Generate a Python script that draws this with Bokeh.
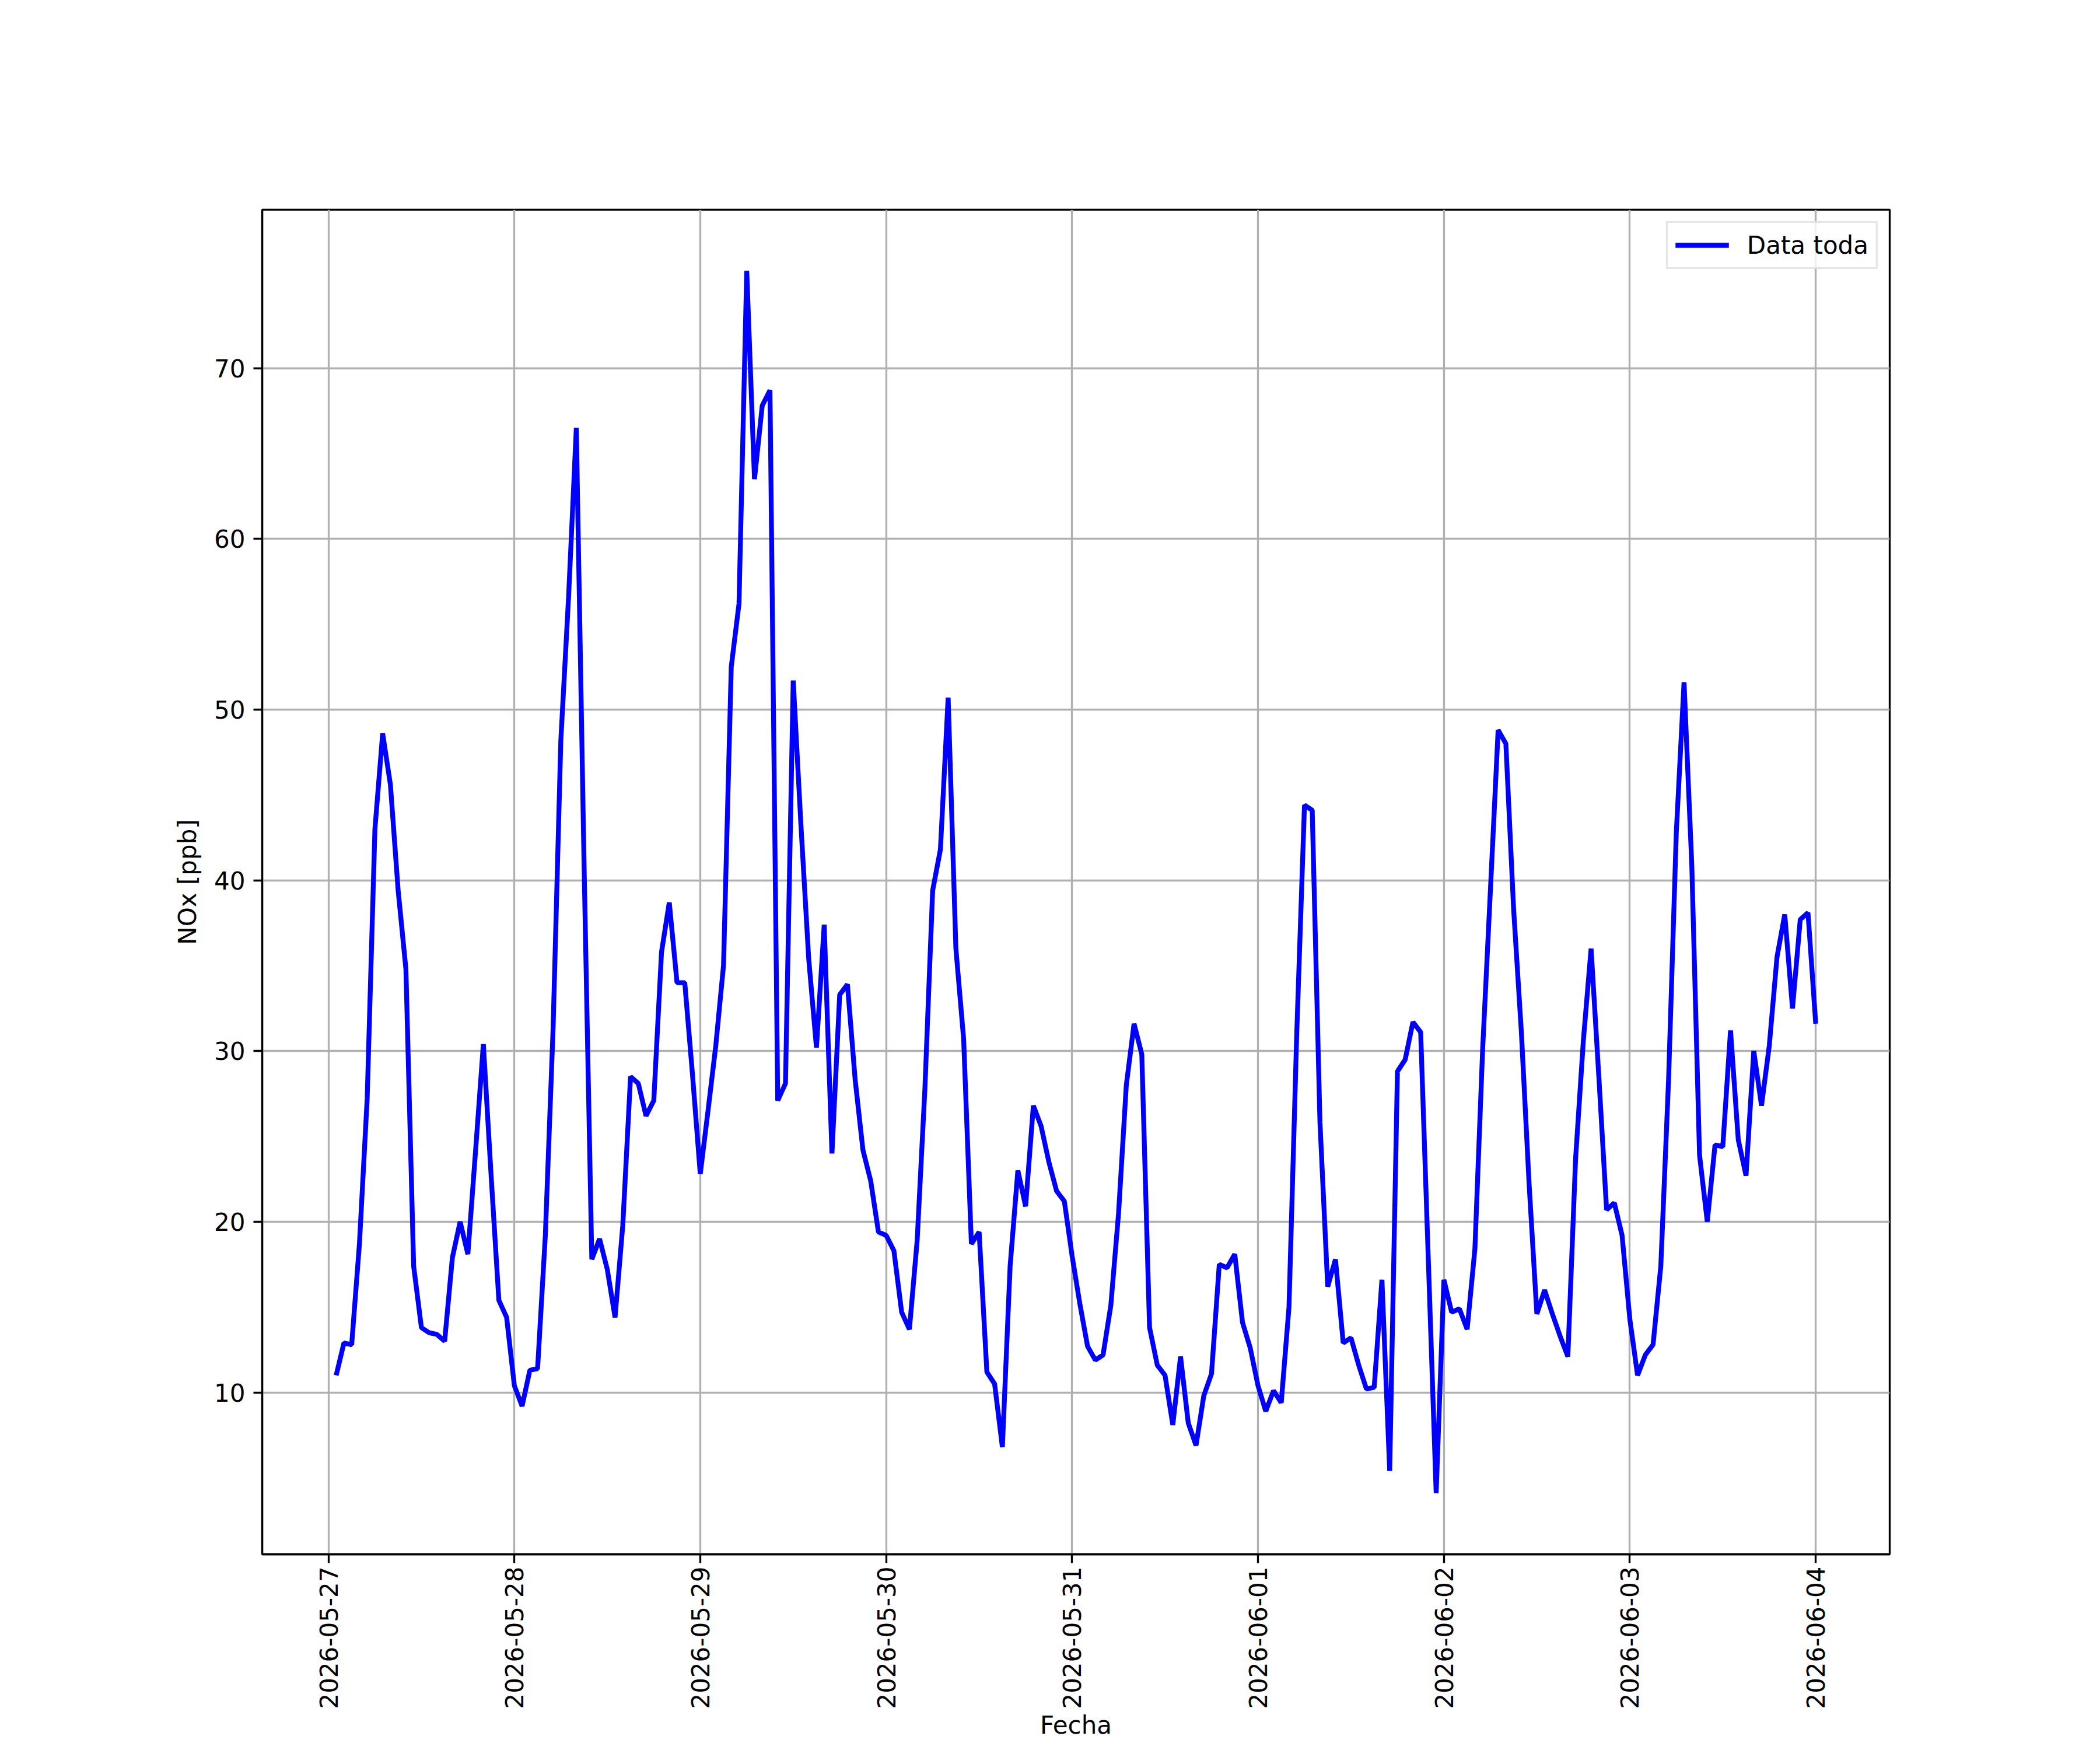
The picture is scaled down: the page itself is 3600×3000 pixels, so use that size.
import numpy as np
import pandas as pd
from bokeh.plotting import figure
from bokeh.models import FixedTicker, DatetimeTickFormatter, Range1d, ColumnDataSource
from bokeh.embed import file_html
from bokeh.resources import INLINE

# ---- data (hourly NOx, ppb) ----
start_time = "2026-05-27 01:00"
nox_0527 = [11.0, 12.9, 12.8, 18.7, 27.2, 43.0, 48.6, 45.6, 39.4, 34.8, 17.4, 13.8,
            13.5, 13.4, 13.0, 17.9, 20.0, 18.1, 24.2, 30.4, 22.7, 15.4, 14.4]
nox_0528 = [10.4, 9.2, 11.3, 11.4, 19.2, 31.3, 48.2, 56.6, 66.5, 40.9, 17.8, 19.0,
            17.2, 14.4, 19.8, 28.5, 28.1, 26.2, 27.1, 35.8, 38.7, 34.0, 34.0, 28.6]
nox_0529 = [22.8, 26.5, 30.3, 35.0, 52.5, 56.2, 75.7, 63.5, 67.8, 68.7, 27.1, 28.1,
            51.7, 43.2, 35.4, 30.2, 37.4, 24.0, 33.3, 33.9, 28.3, 24.2, 22.4, 19.4]
nox_0530 = [19.2, 18.3, 14.7, 13.7, 18.9, 27.8, 39.4, 41.8, 50.7, 36.0, 30.7, 18.7,
            19.4, 11.2, 10.5, 6.8, 17.4, 23.0, 20.9, 26.8, 25.6, 23.5, 21.8, 21.2]
nox_0531 = [18.0, 15.2, 12.7, 11.9, 12.2, 15.1, 20.5, 28.0, 31.6, 29.8, 13.8, 11.6,
            11.0, 8.1, 12.1, 8.2, 6.9, 9.8, 11.1, 17.5, 17.3, 18.1, 14.1, 12.6]
nox_0601 = [10.4, 8.9, 10.1, 9.4, 15.0, 31.0, 44.4, 44.1, 25.8, 16.2, 17.8, 12.9,
            13.2, 11.6, 10.2, 10.3, 16.6, 5.4, 28.8, 29.5, 31.7, 31.1, 17.6, 4.1]
nox_0602 = [16.6, 14.7, 14.9, 13.7, 18.4, 30.1, 39.4, 48.8, 48.0, 38.3, 31.1, 22.2,
            14.6, 16.0, 14.6, 13.3, 12.1, 23.7, 30.6, 36.0, 28.5, 20.7, 21.1, 19.2]
nox_0603 = [14.3, 11.0, 12.2, 12.8, 17.4, 28.3, 42.8, 51.6, 40.9, 23.9, 20.0, 24.5,
            24.4, 31.2, 24.8, 22.7, 30.0, 26.8, 30.3, 35.5, 38.0, 32.5, 37.7, 38.1]
nox_0604 = [31.6]

tick_dates = ["2026-05-27", "2026-05-28", "2026-05-29", "2026-05-30", "2026-05-31",
              "2026-06-01", "2026-06-02", "2026-06-03", "2026-06-04"]
y_ticks = [10, 20, 30, 40, 50, 60, 70]

series_label = "Data toda"
x_label = "Fecha"
y_label = "NOx [ppb]"

nox = (nox_0527 + nox_0528 + nox_0529 + nox_0530 + nox_0531 +
       nox_0601 + nox_0602 + nox_0603 + nox_0604)
times = pd.date_range(start_time, periods=len(nox), freq="h")
src = ColumnDataSource(dict(t=times, v=nox))

def to_ms(ts):
    return pd.Timestamp(ts).value / 1e6

t0, t1 = to_ms(times[0]), to_ms(times[-1])
xpad = 0.05 * (t1 - t0)
vmin, vmax = float(np.min(nox)), float(np.max(nox))
ypad = 0.05 * (vmax - vmin)

FONT = "DejaVu Sans"
FS = "42px"
LW = 3.33

p = figure(width=3584, height=2984, x_axis_type="datetime",
           output_backend="svg", toolbar_location=None,
           x_range=Range1d(t0 - xpad, t1 + xpad),
           y_range=Range1d(vmin - ypad, vmax + ypad),
           min_border_left=449, min_border_right=345,
           min_border_top=359, min_border_bottom=280)
p.title = None

p.line("t", "v", source=src, line_color="#0000ff", line_width=8.3,
       legend_label=series_label)

# axes
p.xaxis.ticker = FixedTicker(ticks=[to_ms(d) for d in tick_dates])
fmt = "%Y-%m-%d"
p.xaxis.formatter = DatetimeTickFormatter(days=fmt, months=fmt, years=fmt,
                                          hours=fmt, minutes=fmt, hourmin=fmt)
p.xaxis.major_label_orientation = np.pi / 2
p.yaxis.ticker = FixedTicker(ticks=y_ticks)
p.xaxis.axis_label = x_label
p.yaxis.axis_label = y_label

for ax in (p.xaxis, p.yaxis):
    ax.axis_label_text_font = FONT
    ax.axis_label_text_font_size = FS
    ax.axis_label_text_font_style = "normal"
    ax.axis_label_text_color = "black"
    ax.major_label_text_font = FONT
    ax.major_label_text_font_size = FS
    ax.major_label_text_color = "black"
    ax.axis_line_color = "black"
    ax.axis_line_width = LW
    ax.major_tick_line_color = "black"
    ax.major_tick_line_width = LW
    ax.major_tick_out = 15
    ax.major_tick_in = 0
    ax.minor_tick_line_color = None
p.xaxis.major_label_standoff = 6
p.yaxis.major_label_standoff = 14
p.xaxis.axis_label_standoff = 0
p.yaxis.axis_label_standoff = 18

p.outline_line_color = "black"
p.outline_line_width = LW
p.outline_line_alpha = 1.0

p.xgrid.grid_line_color = "#b0b0b0"
p.ygrid.grid_line_color = "#b0b0b0"
p.xgrid.grid_line_width = LW
p.ygrid.grid_line_width = LW

lg = p.legend[0]
lg.location = "top_right"
lg.margin = 20
lg.padding = 13
lg.spacing = 0
lg.label_text_font = FONT
lg.label_text_font_size = FS
lg.label_text_color = "black"
lg.label_standoff = 31
lg.label_height = 50
lg.glyph_width = 92
lg.glyph_height = 50
lg.border_line_color = "#cccccc"
lg.border_line_width = LW
lg.background_fill_alpha = 0.8

open("out.html", "w").write(file_html(p, INLINE))
